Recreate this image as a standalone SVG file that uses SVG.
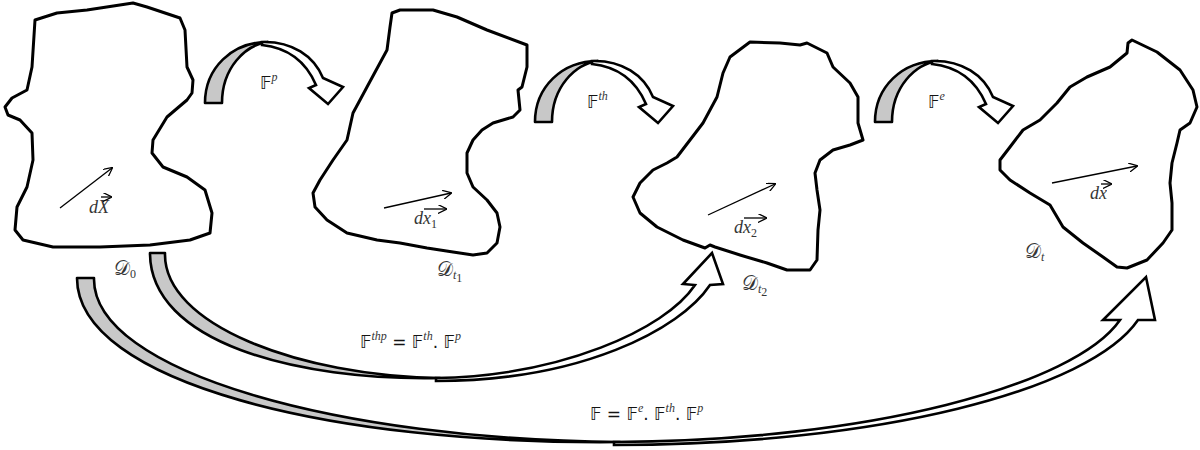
<svg xmlns="http://www.w3.org/2000/svg" width="1200" height="450" viewBox="0 0 1200 450">
<style>
.blob{fill:#fff;stroke:#000;stroke-width:3;stroke-linejoin:round;stroke-linecap:round}
.gray{fill:#c8c8c8;stroke:#000;stroke-width:2.6;stroke-linejoin:round}
.white{fill:#fff;stroke:#000;stroke-width:2.6;stroke-linejoin:miter}
.vec{fill:none;stroke:#000;stroke-width:1.3}
.lbl{font-family:"Liberation Serif","DejaVu Serif",serif;font-style:italic;font-size:18px;fill:#333}
.cal{font-family:"DejaVu Serif","Noto Sans",serif;font-size:20px;fill:#333}
.m{font-family:"DejaVu Sans","DejaVu Serif","Noto Sans",sans-serif;font-size:17px;fill:#111}
.sup{font-family:"Liberation Serif","DejaVu Serif",serif;font-style:italic;font-size:12px;fill:#333}
.sub{font-family:"Liberation Serif","DejaVu Serif",serif;font-style:normal;font-size:12px;fill:#333}
</style>
<defs>
<marker id="ah" viewBox="0 0 10 10" refX="9" refY="5" markerWidth="9" markerHeight="9" markerUnits="userSpaceOnUse" orient="auto">
<path d="M0,0 L10,5 L0,10" fill="none" stroke="#000" stroke-width="1.4"/>
</marker>
<g id="topArrow">
<path class="gray" d="M205,103 C205,68 232,42 268,42 C245,45 222,68 222,103 Z"/>
<path class="white" d="M262,42 C292,41 314,56 323,78 L343,87 L328,104 L309,88 L316,85 C307,64 290,48 262,45 Z"/>
</g>
</defs>

<g id="D0">
<path class="blob" d="M35,20 L57,13 L87,10 L133,3 L147,7 L180,18 L185,30 L187,67 L193,80 L192,93 L187,100 L167,117 L153,140 L152,153 L163,167 L187,177 L205,190 L212,213 L210,233 L190,240 L150,245 L100,247 L53,247 L23,240 L15,230 L17,207 L27,187 L33,160 L32,133 L20,120 L8,115 L5,107 L12,98 L27,90 L32,67 Z"/>
<line class="vec" x1="60" y1="208" x2="112" y2="168" marker-end="url(#ah)"/>
<g opacity="0.99">
<text class="lbl" x="89" y="213">d<tspan>X</tspan></text>
<text class="cal" x="114" y="275">𝒟<tspan class="sub" dy="3">0</tspan></text>
</g>
<line class="vec" x1="101" y1="197" x2="111" y2="197" marker-end="url(#ah)"/>
</g>

<g id="Dt1">
<path class="blob" d="M392,13 L400,10 L433,10 L457,17 L487,30 L527,45 L527,67 L522,87 L518,90 L520,110 L513,117 L493,123 L482,130 L473,140 L467,153 L467,173 L473,187 L487,200 L497,213 L500,227 L497,243 L487,253 L473,255 L453,252 L427,248 L400,243 L377,240 L347,233 L327,220 L315,207 L313,193 L320,180 L333,160 L347,140 L353,113 L367,87 L387,50 L390,27 Z"/>
<line class="vec" x1="384" y1="208" x2="451" y2="193" marker-end="url(#ah)"/>
<g opacity="0.99">
<text class="lbl" x="414" y="224">dx<tspan class="sub" dy="4">1</tspan></text>
<text class="cal" x="437" y="276">𝒟<tspan class="sup" dy="3">t</tspan><tspan class="sub" font-size="9" dy="3">1</tspan></text>
</g>
<line class="vec" x1="424" y1="209" x2="446" y2="209" marker-end="url(#ah)"/>
</g>

<g id="Dt2">
<path class="blob" d="M730,57 L750,42 L780,43 L800,45 L807,43 L827,53 L833,67 L850,83 L858,97 L858,123 L863,140 L850,145 L833,150 L820,160 L815,173 L817,190 L820,210 L818,230 L817,260 L810,270 L787,270 L767,263 L740,255 L715,247 L710,245 L705,248 L683,240 L657,227 L640,213 L633,197 L640,183 L653,170 L667,163 L677,157 L690,140 L703,123 L717,97 L723,73 Z"/>
<line class="vec" x1="708" y1="215" x2="775" y2="184" marker-end="url(#ah)"/>
<g opacity="0.99">
<text class="lbl" x="734" y="233">dx<tspan class="sub" dy="4">2</tspan></text>
<text class="cal" x="742" y="290">𝒟<tspan class="sup" dy="3">t</tspan><tspan class="sub" font-size="9" dy="3">2</tspan></text>
</g>
<line class="vec" x1="744" y1="218" x2="766" y2="218" marker-end="url(#ah)"/>
</g>

<g id="Dt">
<path class="blob" d="M1132,40 L1157,52 L1180,70 L1193,90 L1197,107 L1190,123 L1180,130 L1177,143 L1172,163 L1170,183 L1172,203 L1172,230 L1163,243 L1147,260 L1127,268 L1117,267 L1103,257 L1083,243 L1063,227 L1050,205 L1030,193 L1010,180 L1000,170 L1000,160 L1010,147 L1023,130 L1040,120 L1057,103 L1070,87 L1087,77 L1110,67 L1127,53 L1128,43 Z"/>
<line class="vec" x1="1052" y1="183" x2="1137" y2="166" marker-end="url(#ah)"/>
<g opacity="0.99">
<text class="lbl" x="1090" y="199">dx</text>
<text class="cal" x="1025" y="258">𝒟<tspan class="sup" dy="3">t</tspan></text>
</g>
<line class="vec" x1="1101" y1="184" x2="1111" y2="184" marker-end="url(#ah)"/>
</g>

<g id="connectors">
<use href="#topArrow"/>
<use href="#topArrow" transform="translate(330,19)"/>
<use href="#topArrow" transform="translate(670,19)"/>

<path class="gray" d="M150,253 L165,253 C163,325 300,376 440,378 C295,381 150,342 150,253 Z"/>
<path class="white" d="M436,381 C580,381 680,330 710,285 L723,284 L712,253 L683,284 L695,285 C665,330 560,376 436,378 Z"/>

<path class="gray" d="M77,278 L94,278 C92,372 340,440 620,442 C330,445 77,382 77,278 Z"/>
<path class="white" d="M614,445 C880,445 1090,390 1138,320 L1155,320 L1146,277 L1103,320 L1120,320 C1075,385 870,441 614,442 Z"/>

<g opacity="0.99">
<text class="m" x="260" y="89">𝔽<tspan class="sup" dy="-8">p</tspan></text>
<text class="m" x="587" y="108">𝔽<tspan class="sup" dy="-8">th</tspan></text>
<text class="m" x="928" y="108">𝔽<tspan class="sup" dy="-8">e</tspan></text>
<text class="m" x="360" y="348">𝔽<tspan class="sup" dy="-8">thp</tspan><tspan dy="8"> = 𝔽</tspan><tspan class="sup" dy="-8">th</tspan><tspan dy="8">. 𝔽</tspan><tspan class="sup" dy="-8">p</tspan></text>
<text class="m" x="590" y="420">𝔽 = 𝔽<tspan class="sup" dy="-8">e</tspan><tspan dy="8">. 𝔽</tspan><tspan class="sup" dy="-8">th</tspan><tspan dy="8">. 𝔽</tspan><tspan class="sup" dy="-8">p</tspan></text>
</g>
</g>
</svg>
